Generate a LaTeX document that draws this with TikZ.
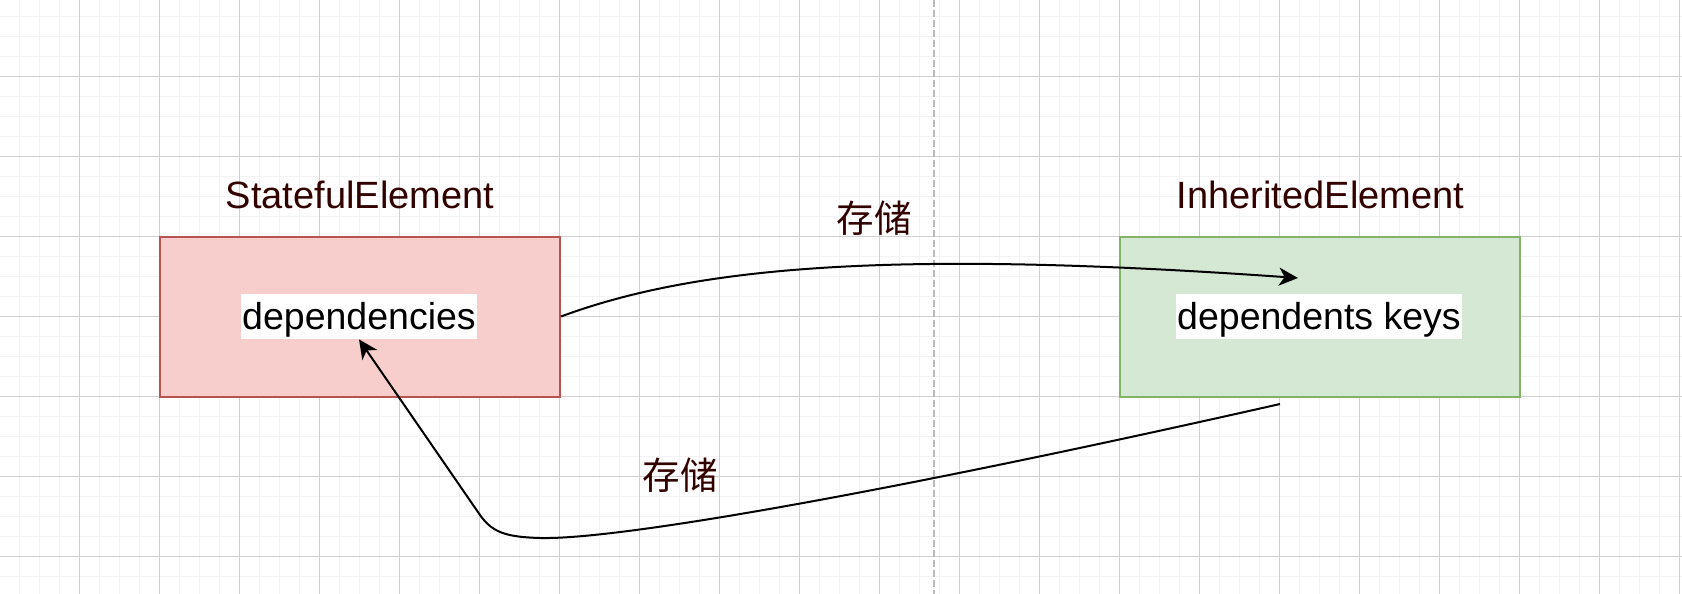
\documentclass[tikz,border=0pt]{standalone}
\usepackage{fontspec}
\setmainfont{Liberation Sans}
\newfontfamily\cjk{Noto Sans CJK SC}
\usetikzlibrary{arrows.meta}

\definecolor{gridmajor}{HTML}{D0D0D0}
\definecolor{gridminor}{HTML}{F3F3F3}
\definecolor{redfill}{HTML}{F8CECC}
\definecolor{redline}{HTML}{B85450}
\definecolor{greenfill}{HTML}{D5E8D4}
\definecolor{greenline}{HTML}{82B366}
\definecolor{titletext}{HTML}{330000}
\definecolor{guide}{HTML}{BBBBBB}

\tikzset{
  big/.style={font=\fontsize{18.75pt}{22pt}\selectfont},
  element/.style={draw, line width=1pt, minimum width=200pt, minimum height=80pt, inner sep=0pt},
  title/.style={font=\fontsize{19pt}{22pt}\selectfont, text=titletext, anchor=base, inner sep=0pt},
  field/.style={big, fill=white, inner xsep=0.75pt, inner ysep=0pt, text height=17.5pt, text depth=5pt},
  store/.style={font={\cjk\fontsize{18.75pt}{22pt}\selectfont}, text=titletext, inner sep=0pt},
  link/.style={line width=1pt, -{Stealth[length=9.5pt,width=9pt,inset=2.8pt]}},
}

\begin{document}
\begin{tikzpicture}[x=0.5pt, y=-0.5pt]
    % Background
    \fill[white] (0,0) rectangle (1682,594);
    \useasboundingbox (0,0) rectangle (1682,594);

    % Grid
    \foreach \i in {0,...,83} {
        \draw[gridminor, line width=0.8pt] ({19.5+20*\i},0) -- ({19.5+20*\i},594);
    }
    \foreach \i in {0,...,28} {
        \draw[gridminor, line width=0.8pt] (0,{16.5+20*\i}) -- (1682,{16.5+20*\i});
    }
    \foreach \i in {0,...,20} {
        \draw[gridmajor, line width=0.5pt] ({79.5+80*\i},0) -- ({79.5+80*\i},594);
    }
    \foreach \i in {0,...,6} {
        \draw[gridmajor, line width=0.5pt] (0,{76.5+80*\i}) -- (1682,{76.5+80*\i});
    }

    % Divider
    \draw[guide, line width=1pt, dash pattern=on 3.5pt off 1.5pt] (934,0) -- (934,594);

    % Elements
    \node[element, fill=redfill, draw=redline] (state) at (360,316.5) {};
    \node[element, fill=greenfill, draw=greenline] (inherited) at (1320,316.5) {};
    \node[title] (stateTitle) at (360,208) {StatefulElement};
    \node[title] (inheritedTitle) at (1320.5,208) {InheritedElement};
    \node[field] (deps) at (359,316.5) {dependencies};
    \node[field] (keys) at (1319,316.5) {dependents keys};

    % Store arrows
    \coordinate (keysIn) at (1298,278);
    \coordinate (inheritedOut) at (1280,404);
    \draw[link] (state.east) .. controls (700,265) and (900,250) .. (keysIn);
    \draw[link] (inheritedOut) .. controls (900,490) and (620,540) .. (540,538)
        .. controls (505,537) and (492,532) .. (480,515) -- (deps.south);
    \node[store] (storeTop) at (874,218) {存储};
    \node[store] (storeBottom) at (680,475) {存储};
\end{tikzpicture}
\end{document}
